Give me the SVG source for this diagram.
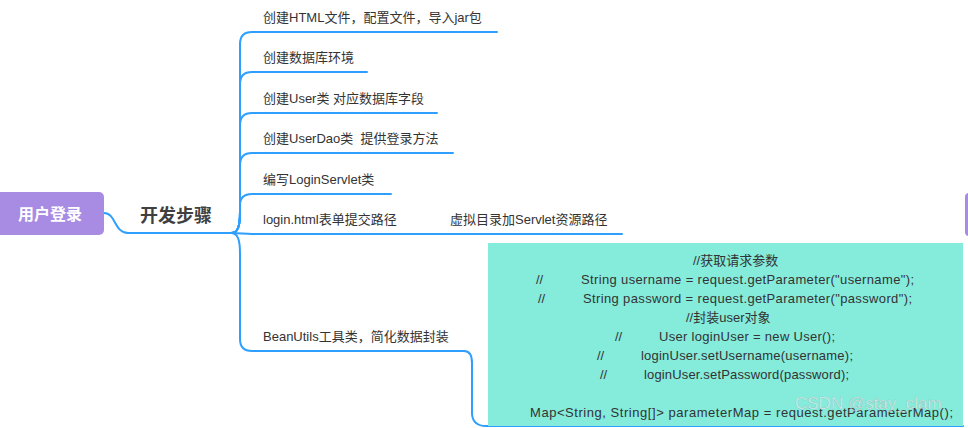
<svg xmlns="http://www.w3.org/2000/svg" width="968" height="428" viewBox="0 0 968 428">
<style>
.t{font-family:"Liberation Sans","Noto Sans CJK SC",sans-serif;font-size:13px;fill:#333}
.c{font-family:"Liberation Sans","Noto Sans CJK SC",sans-serif;font-size:13px;fill:#333}
.ln{fill:none;stroke:#2e9fff;stroke-width:2;stroke-linecap:round}
</style>
<rect width="968" height="428" fill="#fff"/>
<g id="connectors">
<path class="ln" d="M104,213 C116,213 114,233 128,233 L231,233"/>
<path class="ln" d="M231,233 C238,233 240,226 240,212 L240,44 Q240,32 252,32 L497,32"/>
<path class="ln" d="M231,233 C238,233 240,226 240,212 L240,84 Q240,72 252,72 L367,72"/>
<path class="ln" d="M231,233 C238,233 240,226 240,212 L240,125 Q240,113 252,113 L437,113"/>
<path class="ln" d="M231,233 C238,233 240,226 240,212 L240,165 Q240,153 252,153 L453,153"/>
<path class="ln" d="M231,233 C238,233 240,226 240,212 L240,205 Q240,194 252,194 L391,194"/>
<path class="ln" d="M231,233 C240,233 244,234 252,234 L440,234"/>
<path class="ln" d="M440,234 L622,234"/>
<path class="ln" d="M231,233 C238,233 240,240 240,254 L240,339 Q240,351 252,351 L464,351 Q472,351 472,363 L472,414 Q473,426 486,426 L963,426"/>
</g>
<g id="root">
<rect x="-6" y="192" width="110" height="43" rx="5" fill="#a88be2"/>
<text x="50" y="220" text-anchor="middle" font-family="'Noto Sans CJK SC',sans-serif" font-size="16" font-weight="bold" fill="#fff">用户登录</text>
</g>
<g id="main">
<text x="140" y="222" font-family="'Noto Sans CJK SC',sans-serif" font-size="18" font-weight="bold" fill="#404040">开发步骤</text>
</g>
<g id="right-node">
<rect x="965" y="193" width="20" height="43" rx="4" fill="#a88be2"/>
</g>
<g id="b1"><text class="t" x="263" y="22">创建HTML文件，配置文件，导入jar包</text></g>
<g id="b2"><text class="t" x="263" y="62">创建数据库环境</text></g>
<g id="b3"><text class="t" x="263" y="103">创建User类 对应数据库字段</text></g>
<g id="b4"><text class="t" x="263" y="143" xml:space="preserve">创建UserDao类  提供登录方法</text></g>
<g id="b5"><text class="t" x="263" y="184">编写LoginServlet类</text></g>
<g id="b6"><text class="t" x="263" y="224">login.html表单提交路径</text></g>
<g id="b6a"><text class="t" x="450" y="224">虚拟目录加Servlet资源路径</text></g>
<g id="b7"><text class="t" x="263" y="341">BeanUtils工具类，简化数据封装</text></g>
<g id="code">
<rect x="488" y="243" width="475" height="183" fill="#85ebdb"/>
<text class="c" x="693" y="265">//获取请求参数</text>
<text class="c" x="536" y="284">//</text><text class="c" x="581" y="284" textLength="333" lengthAdjust="spacing">String username = request.getParameter("username");</text>
<text class="c" x="538" y="303">//</text><text class="c" x="583" y="303" textLength="329" lengthAdjust="spacing">String password = request.getParameter("password");</text>
<text class="c" x="686" y="322">//封装user对象</text>
<text class="c" x="615" y="341">//</text><text class="c" x="659" y="341" textLength="176" lengthAdjust="spacing">User loginUser = new User();</text>
<text class="c" x="597" y="360">//</text><text class="c" x="641" y="360" textLength="212" lengthAdjust="spacing">loginUser.setUsername(username);</text>
<text class="c" x="600" y="379">//</text><text class="c" x="644" y="379" textLength="205" lengthAdjust="spacing">loginUser.setPassword(password);</text>
<text class="c" x="530" y="417" textLength="423" lengthAdjust="spacing">Map&lt;String, String[]&gt; parameterMap = request.getParameterMap();</text>
</g>
<text x="795" y="409" font-family="'Liberation Sans',sans-serif" font-size="17" fill="#ffffff" fill-opacity="0.55" stroke="#888" stroke-opacity="0.35" stroke-width="0.6">CSDN @stay_clam</text>
</svg>
